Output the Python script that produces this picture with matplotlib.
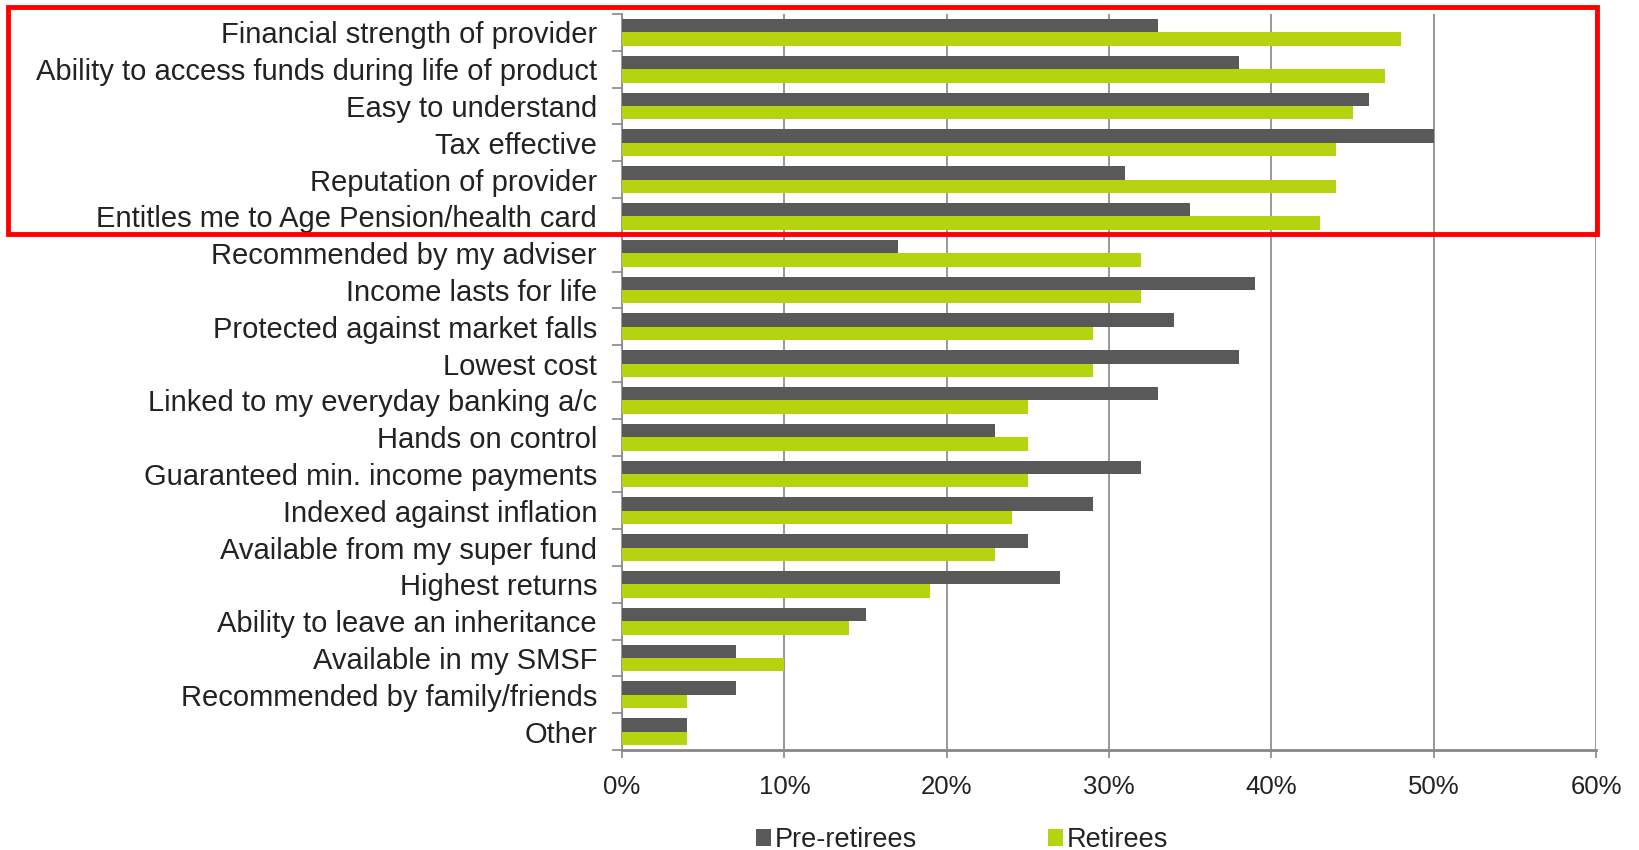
import matplotlib.pyplot as plt
import matplotlib.patches as patches
import numpy as np

categories = ['Financial strength of provider',
              'Ability to access funds during life of product',
              'Easy to understand',
              'Tax effective',
              'Reputation of provider',
              'Entitles me to Age Pension/health card',
              'Recommended by my adviser',
              'Income lasts for life',
              'Protected against market falls',
              'Lowest cost',
              'Linked to my everyday banking a/c',
              'Hands on control',
              'Guaranteed min. income payments',
              'Indexed against inflation',
              'Available from my super fund',
              'Highest returns',
              'Ability to leave an inheritance',
              'Available in my SMSF',
              'Recommended by family/friends',
              'Other']
pre_retirees = [33, 38, 46, 50, 31, 35, 17, 39, 34, 38, 33, 23, 32, 29, 25, 27, 15, 7, 7, 4]
retirees = [48, 47, 45, 44, 44, 43, 32, 32, 29, 29, 25, 25, 25, 24, 23, 19, 14, 10, 4, 4]
xticks = [0, 10, 20, 30, 40, 50, 60]

plt.rcParams['font.family'] = ['Liberation Sans', 'DejaVu Sans']

fig = plt.figure(figsize=(16.39, 8.5), dpi=100)
ax = fig.add_axes([0.3795, 0.1176, 0.9738 - 0.3795, 0.9835 - 0.1176])

y = np.arange(len(categories))
h = 0.365
ax.barh(y - h / 2, pre_retirees, height=h, color='#595959', label='Pre-retirees', zorder=3)
ax.barh(y + h / 2, retirees, height=h, color='#b5d30e', label='Retirees', zorder=3)

ax.set_xlim(0, 60)
ax.set_ylim(len(categories) - 0.5, -0.5)
ax.set_xticks(xticks)
ax.set_xticklabels(['{}%'.format(t) for t in xticks], fontsize=18.5, color='#222222')
ax.tick_params(axis='x', length=6, width=1.2, color='#888888', pad=12)

ax.set_yticks(np.arange(len(categories) + 1) - 0.5)
ax.set_yticklabels([])
ax.tick_params(axis='y', which='major', length=7, width=1.2, color='#888888')
ax.set_yticks(y, minor=True)
ax.set_yticklabels(categories, minor=True, fontsize=21, color='#222222')
ax.tick_params(axis='y', which='minor', length=0, pad=18)

ax.grid(axis='x', color='#888888', linewidth=1.2, zorder=0)
for s in ['top', 'right']:
    ax.spines[s].set_visible(False)
ax.spines['left'].set_color('#888888')
ax.spines['left'].set_linewidth(1.2)
ax.spines['bottom'].set_color('#888888')
ax.spines['bottom'].set_linewidth(2)

fig.legend(loc='center', bbox_to_anchor=(0.587, 0.012), ncol=2, frameon=False,
           fontsize=19.5, handlelength=0.55, handleheight=0.6, handletextpad=0.15,
           columnspacing=4.85, labelcolor='#222222')

rect = patches.Rectangle((8 / 1639, 1 - 234 / 850), (1597 - 8) / 1639, (234 - 7) / 850,
                         transform=fig.transFigure, fill=False, edgecolor='#ff0000',
                         linewidth=3.5, zorder=10)
fig.patches.append(rect)

fig.savefig('out.png', dpi=100)
